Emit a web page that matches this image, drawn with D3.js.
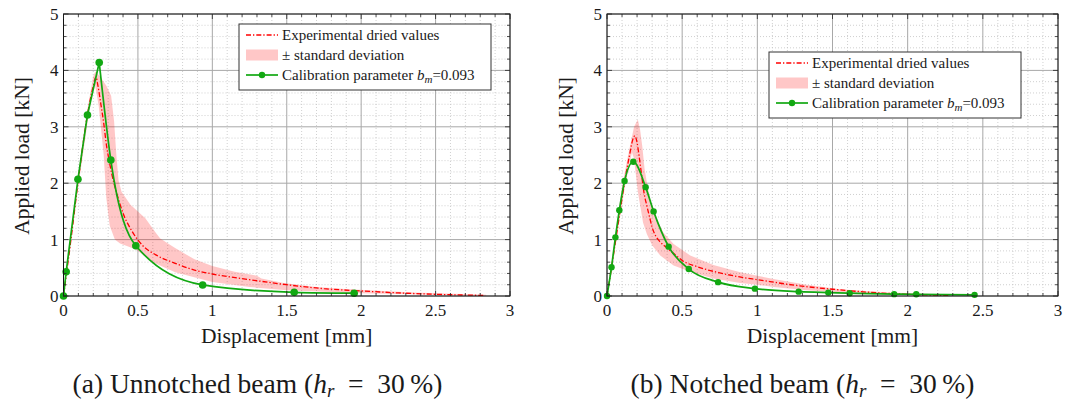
<!DOCTYPE html>
<html><head><meta charset="utf-8">
<script src="https://cdn.jsdelivr.net/npm/d3@7"></script>
<style>
body{margin:0;background:#fff}
svg{display:block}
text{font-family:"Liberation Serif","DejaVu Serif",serif;fill:#1a1a1a}
</style>
</head><body>
<svg id="c" width="1075" height="403"></svg>
<script>
// ---------- shared axis data ----------
const xTicks = [0, 0.5, 1, 1.5, 2, 2.5, 3];
const xTickLabels = ["0", "0.5", "1", "1.5", "2", "2.5", "3"];
const yTicks = [0, 1, 2, 3, 4, 5];
const yTickLabels = ["0", "1", "2", "3", "4", "5"];
const xLabel = "Displacement [mm]";
const yLabel = "Applied load [kN]";
const legendLabels = ["Experimental dried values", "\u00B1 standard deviation", "Calibration parameter "];
const calibValue = "0.093";
const captionA = ["(a) Unnotched beam (", ")"];
const captionB = ["(b) Notched beam (", ")"];

// ---------- panel (a): unnotched beam ----------
const expA = [[0,0],[0.05,1.0],[0.1,2.07],[0.16,3.2],[0.2,3.72],[0.218,3.88],[0.232,3.72],[0.25,3.42],[0.27,3.07],[0.29,2.65],[0.306,2.41],[0.323,2.18],[0.36,1.8],[0.4,1.47],[0.46,1.15],[0.53,0.9],[0.62,0.73],[0.75,0.58],[0.88,0.46],[1.0,0.39],[1.25,0.29],[1.5,0.2],[1.75,0.13],[2.0,0.09],[2.25,0.055],[2.5,0.03],[2.83,0.01]];
const bandUpperA = [[0,0],[0.05,1.05],[0.1,2.15],[0.16,3.3],[0.2,3.9],[0.215,3.98],[0.25,3.88],[0.29,3.72],[0.32,3.55],[0.34,3.1],[0.355,2.5],[0.37,2.05],[0.39,1.85],[0.45,1.62],[0.55,1.38],[0.62,1.12],[0.65,1.02],[0.75,0.85],[0.88,0.65],[1.0,0.53],[1.15,0.43],[1.3,0.36],[1.33,0.31],[1.48,0.23],[1.7,0.16],[1.92,0.12],[2.35,0.06],[2.84,0.02]];
const bandLowerA = [[0,0],[0.1,1.95],[0.16,3.05],[0.19,3.6],[0.205,3.85],[0.237,3.36],[0.27,2.5],[0.287,1.75],[0.31,1.25],[0.345,1.0],[0.38,0.93],[0.43,0.88],[0.49,0.82],[0.6,0.6],[0.75,0.42],[1.0,0.25],[1.25,0.16],[1.5,0.1],[2.0,0.05],[2.5,0.02],[2.84,0.005]];
const calibA = [[0,0],[0.018,0.43],[0.097,2.07],[0.161,3.21],[0.24,4.14],[0.318,2.41],[0.486,0.89],[0.935,0.196],[1.55,0.065],[1.953,0.05]];

// ---------- panel (b): notched beam ----------
const expB = [[0,0],[0.03,0.5],[0.06,1.03],[0.09,1.56],[0.12,2.06],[0.15,2.5],[0.17,2.76],[0.185,2.84],[0.2,2.72],[0.215,2.45],[0.23,2.15],[0.245,1.85],[0.265,1.6],[0.285,1.38],[0.3,1.22],[0.325,1.06],[0.35,0.97],[0.4,0.85],[0.45,0.74],[0.5,0.63],[0.6,0.52],[0.75,0.41],[0.9,0.33],[1.0,0.29],[1.25,0.19],[1.5,0.12],[1.75,0.065],[2.0,0.03],[2.27,0.01]];
const bandUpperB = [[0,0],[0.05,0.95],[0.1,1.95],[0.15,2.62],[0.18,3.0],[0.205,3.13],[0.22,2.95],[0.235,2.65],[0.25,2.25],[0.266,2.0],[0.288,1.7],[0.32,1.42],[0.376,1.12],[0.443,0.92],[0.554,0.72],[0.708,0.55],[0.886,0.42],[1.0,0.36],[1.107,0.3],[1.328,0.2],[1.55,0.12],[1.88,0.06],[2.21,0.03],[2.27,0.025]];
const bandLowerB = [[0,0],[0.06,0.95],[0.12,1.95],[0.15,2.35],[0.166,2.55],[0.178,2.45],[0.19,2.2],[0.205,1.85],[0.221,1.6],[0.24,1.3],[0.265,1.1],[0.3,0.9],[0.354,0.72],[0.443,0.54],[0.554,0.43],[0.708,0.31],[0.886,0.23],[1.0,0.2],[1.107,0.16],[1.33,0.1],[1.66,0.05],[1.99,0.018],[2.27,0.0]];
const calibB = [[0,0],[0.03,0.51],[0.056,1.04],[0.082,1.52],[0.117,2.04],[0.175,2.38],[0.257,1.93],[0.31,1.5],[0.41,0.875],[0.544,0.478],[0.739,0.246],[0.984,0.13],[1.275,0.077],[1.472,0.06],[1.614,0.05],[1.91,0.033],[2.057,0.03],[2.445,0.02]];

// ---------- styles ----------
const RED = "#ff0000", GREEN = "#12a812", BAND = "rgba(255,0,0,0.22)";

const svg = d3.select("#c");

function drawPanel(p) {
  const x = d3.scaleLinear().domain([0, 3]).range([p.x0, p.x1]);
  const y = d3.scaleLinear().domain([0, 5]).range([p.y1, p.y0]);
  const g = svg.append("g");

  const xMinor = d3.range(0, 3.0001, 0.1).filter(v => Math.abs(v*2 - Math.round(v*2)) > 1e-6);
  const yMinor = d3.range(0, 5.0001, 0.2).filter(v => Math.abs(v - Math.round(v)) > 1e-6);

  // minor grid (dotted)
  g.selectAll(".gxm").data(xMinor).join("line")
    .attr("x1", d => x(d)).attr("x2", d => x(d)).attr("y1", p.y0).attr("y2", p.y1)
    .attr("stroke", "#c4c4c4").attr("stroke-width", 0.8).attr("stroke-dasharray", "1,2");
  g.selectAll(".gym").data(yMinor).join("line")
    .attr("y1", d => y(d)).attr("y2", d => y(d)).attr("x1", p.x0).attr("x2", p.x1)
    .attr("stroke", "#c4c4c4").attr("stroke-width", 0.8).attr("stroke-dasharray", "1,2");
  // major grid
  g.selectAll(".gx").data(xTicks).join("line")
    .attr("x1", d => x(d)).attr("x2", d => x(d)).attr("y1", p.y0).attr("y2", p.y1)
    .attr("stroke", "#a8a8a8").attr("stroke-width", 1);
  g.selectAll(".gy").data(yTicks).join("line")
    .attr("y1", d => y(d)).attr("y2", d => y(d)).attr("x1", p.x0).attr("x2", p.x1)
    .attr("stroke", "#a8a8a8").attr("stroke-width", 1);

  // band
  const ln = d3.line().x(d => x(d[0])).y(d => y(d[1]));
  g.append("path")
    .attr("d", ln(p.upper.concat(p.lower.slice().reverse())) + "Z")
    .attr("fill", BAND).attr("stroke", "none");

  // experimental line
  g.append("path").datum(p.exp)
    .attr("d", d3.line().x(d => x(d[0])).y(d => y(d[1])).curve(d3.curveMonotoneX))
    .attr("fill", "none").attr("stroke", RED).attr("stroke-width", 1.3)
    .attr("stroke-dasharray", "5,2,1.3,2");

  // calibration line
  const mono = d3.line().x(d => x(d[0])).y(d => y(d[1])).curve(d3.curveMonotoneX);
  if (p.sharpPeak) {
    const iMax = d3.maxIndex(p.calib, d => d[1]);
    g.append("path").attr("d", ln(p.calib.slice(0, iMax + 1)))
      .attr("fill", "none").attr("stroke", GREEN).attr("stroke-width", 1.7).attr("stroke-linejoin", "round");
    g.append("path").attr("d", mono(p.calib.slice(iMax)))
      .attr("fill", "none").attr("stroke", GREEN).attr("stroke-width", 1.7);
  } else {
    g.append("path").attr("d", mono(p.calib))
      .attr("fill", "none").attr("stroke", GREEN).attr("stroke-width", 1.7);
  }
  g.selectAll(".mk").data(p.calib).join("circle")
    .attr("cx", d => x(d[0])).attr("cy", d => y(d[1])).attr("r", p.r)
    .attr("fill", GREEN);

  // frame
  g.append("rect").attr("x", p.x0).attr("y", p.y0).attr("width", p.x1 - p.x0).attr("height", p.y1 - p.y0)
    .attr("fill", "none").attr("stroke", "#111").attr("stroke-width", 1);

  // ticks (inside, all four sides)
  const tk = (vals, len, horiz) => {
    vals.forEach(v => {
      if (horiz) {
        g.append("line").attr("x1", x(v)).attr("x2", x(v)).attr("y1", p.y1).attr("y2", p.y1 - len).attr("stroke", "#222").attr("stroke-width", 0.8);
        g.append("line").attr("x1", x(v)).attr("x2", x(v)).attr("y1", p.y0).attr("y2", p.y0 + len).attr("stroke", "#222").attr("stroke-width", 0.8);
      } else {
        g.append("line").attr("y1", y(v)).attr("y2", y(v)).attr("x1", p.x0).attr("x2", p.x0 + len).attr("stroke", "#222").attr("stroke-width", 0.8);
        g.append("line").attr("y1", y(v)).attr("y2", y(v)).attr("x1", p.x1).attr("x2", p.x1 - len).attr("stroke", "#222").attr("stroke-width", 0.8);
      }
    });
  };
  tk(xMinor, 3, true); tk(yMinor, 3, false);
  tk(xTicks, 5, true); tk(yTicks, 5, false);

  // tick labels
  g.selectAll(".xl").data(xTicks).join("text")
    .attr("x", d => x(d)).attr("y", p.y1 + 20).attr("text-anchor", "middle")
    .attr("font-size", 17).text((d, i) => xTickLabels[i]);
  g.selectAll(".yl").data(yTicks).join("text")
    .attr("x", p.x0 - 5).attr("y", d => y(d) + 6).attr("text-anchor", "end")
    .attr("font-size", 17).text((d, i) => yTickLabels[i]);

  // axis labels
  g.append("text").attr("x", (p.x0 + p.x1) / 2).attr("y", 343).attr("text-anchor", "middle")
    .attr("font-size", 21.5).text(xLabel);
  g.append("text").attr("transform", `translate(${p.ylabX},156) rotate(-90)`).attr("text-anchor", "middle")
    .attr("font-size", 21.5).text(yLabel);

  // legend
  const L = p.legend;
  const lg = g.append("g");
  lg.append("rect").attr("x", L.x).attr("y", L.y).attr("width", L.w).attr("height", L.h)
    .attr("fill", "#fff").attr("stroke", "#333").attr("stroke-width", 1);
  const rows = [L.y + 11, L.y + 31, L.y + 51];
  lg.append("line").attr("x1", L.x + 7).attr("x2", L.x + 39).attr("y1", rows[0]).attr("y2", rows[0])
    .attr("stroke", RED).attr("stroke-width", 1.3).attr("stroke-dasharray", "5,2,1.3,2");
  lg.append("rect").attr("x", L.x + 7).attr("y", rows[1] - 5.5).attr("width", 32).attr("height", 11)
    .attr("fill", BAND);
  lg.append("line").attr("x1", L.x + 7).attr("x2", L.x + 39).attr("y1", rows[2]).attr("y2", rows[2])
    .attr("stroke", GREEN).attr("stroke-width", 1.7);
  lg.append("circle").attr("cx", L.x + 23).attr("cy", rows[2]).attr("r", 3.2).attr("fill", GREEN);
  legendLabels.forEach((t, i) => {
    const tx = lg.append("text").attr("x", L.x + 43).attr("y", rows[i] + 5).attr("font-size", 15).text(t);
    if (i === 2) {
      tx.append("tspan").attr("font-style", "italic").text("b");
      tx.append("tspan").attr("font-style", "italic").attr("font-size", 11).attr("dy", 3).text("m");
      tx.append("tspan").attr("dy", -3).text("=" + calibValue);
    }
  });

  // caption
  const cap = g.append("text").attr("x", p.capX).attr("y", 393).attr("text-anchor", "middle").attr("font-size", 27.5);
  cap.append("tspan").text(p.caption[0]);
  cap.append("tspan").attr("font-style", "italic").text("h");
  cap.append("tspan").attr("font-style", "italic").attr("font-size", 19).attr("dy", 4).text("r");
  cap.append("tspan").attr("dy", -4).text("\u2002=\u200230\u2009%");
  cap.append("tspan").text(p.caption[1]);
}

drawPanel({x0: 63.5, x1: 510, y0: 14, y1: 296, exp: expA, upper: bandUpperA, lower: bandLowerA,
  calib: calibA, sharpPeak: true, r: 3.8, ylabX: 29, capX: 257.5, caption: captionA,
  legend: {x: 239, y: 24, w: 252, h: 66}});
drawPanel({x0: 607, x1: 1058, y0: 14, y1: 296, exp: expB, upper: bandUpperB, lower: bandLowerB,
  calib: calibB, sharpPeak: false, r: 3.2, ylabX: 572.5, capX: 802.5, caption: captionB,
  legend: {x: 769, y: 52, w: 252, h: 66}});
</script>
</body></html>
